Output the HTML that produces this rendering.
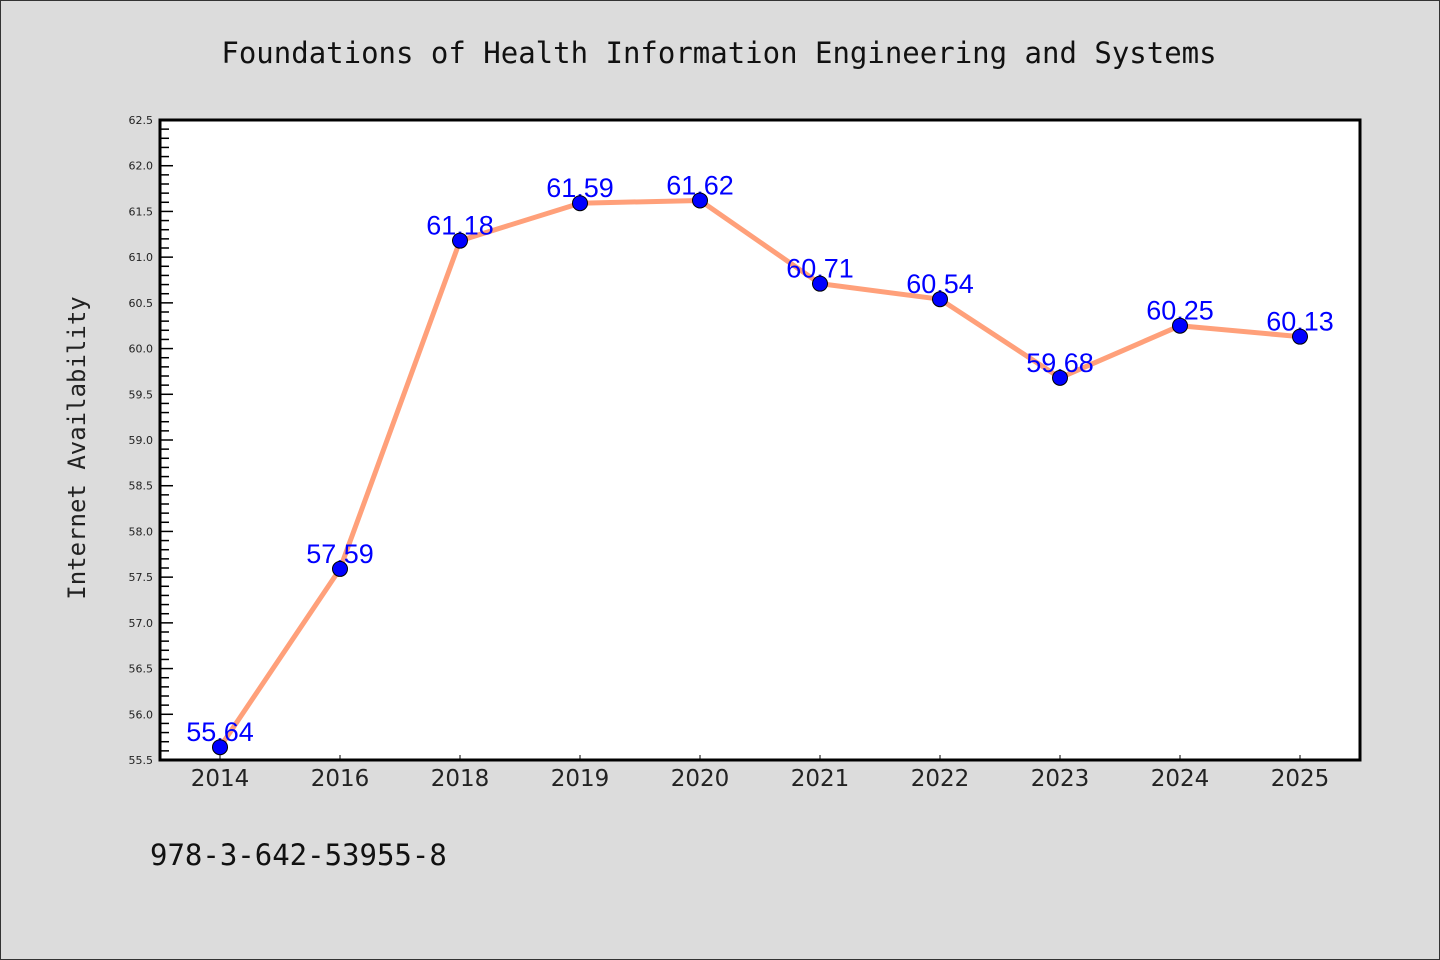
<!DOCTYPE html>
<html><head><meta charset="utf-8"><style>
body{margin:0;background:#dcdcdc;}
svg{display:block;}
</style></head><body>
<svg width="1440" height="960" xmlns="http://www.w3.org/2000/svg">
<rect x="0.5" y="0.5" width="1439" height="959" fill="#dcdcdc" stroke="#333" stroke-width="1"/>
<text x="719" y="63" text-anchor="middle" font-family="DejaVu Sans Mono, Liberation Mono, monospace" font-size="29" fill="#111">Foundations of Health Information Engineering and Systems</text>
<text transform="translate(85,448) rotate(-90)" text-anchor="middle" font-family="DejaVu Sans Mono, Liberation Mono, monospace" font-size="24" fill="#222">Internet Availability</text>
<text x="150" y="865" font-family="DejaVu Sans Mono, Liberation Mono, monospace" font-size="29" fill="#111">978-3-642-53955-8</text>
<rect x="160" y="120" width="1200" height="640" fill="#fff"/>
<g id="ticks"></g>
<g id="series"></g>
<rect x="160" y="120" width="1200" height="640" fill="none" stroke="#000" stroke-width="3"/>
</svg>
<script>
const categories=["2014","2016","2018","2019","2020","2021","2022","2023","2024","2025"];
const values=[55.64,57.59,61.18,61.59,61.62,60.71,60.54,59.68,60.25,60.13];
const labels=["55.64","57.59","61.18","61.59","61.62","60.71","60.54","59.68","60.25","60.13"];
const yTicks=["55.5","56.0","56.5","57.0","57.5","58.0","58.5","59.0","59.5","60.0","60.5","61.0","61.5","62.0","62.5"];
const yMin=55.5,yMax=62.5,L=160,T=120,W=1200,H=640;
const NS="http://www.w3.org/2000/svg";
function y(v){return T+H-(v-yMin)/(yMax-yMin)*H;}
function x(i){return L+60+i*120;}
function mk(t,a,p){const e=document.createElementNS(NS,t);for(const k in a)e.setAttribute(k,a[k]);p.appendChild(e);return e;}
const tg=document.getElementById('ticks');
for(let v=yMin;v<=yMax+1e-6;v+=0.1){
  const major=Math.abs(Math.round(v*2)-v*2)<1e-6;
  const l=mk('line',{x1:L,x2:L+(major?13:9),y1:y(v),y2:y(v),stroke:'#000','stroke-width':1.5},tg);
  
  
}
yTicks.forEach(s=>{
  const t=mk('text',{x:L-7,y:y(parseFloat(s))+4,'text-anchor':'end','font-family':'DejaVu Sans, Liberation Sans, sans-serif','font-size':11,fill:'#222'},tg);
  t.textContent=s;
  
  
});
categories.forEach((c,i)=>{
  const l=mk('line',{x1:x(i),x2:x(i),y1:T+H,y2:T+H-5,stroke:'#000','stroke-width':1},tg);
  
  
  const t=mk('text',{x:x(i),y:T+H+26,'text-anchor':'middle','font-family':'DejaVu Sans, Liberation Sans, sans-serif','font-size':23,fill:'#222'},tg);
  t.textContent=c;
  
  
});
const sg=document.getElementById('series');
const line=mk('polyline',{points:values.map((v,i)=>x(i)+','+y(v)).join(' '),fill:'none',stroke:'#ffa07a','stroke-width':5,'stroke-linejoin':'round'},sg);


values.forEach((v,i)=>{
  const t=mk('text',{x:x(i),y:y(v)-6,'text-anchor':'middle','font-family':'Liberation Sans, sans-serif','font-size':27,fill:'#0000ff'},sg);
  t.textContent=labels[i];
  
  
});
values.forEach((v,i)=>{
  const c=mk('circle',{cx:x(i),cy:y(v),r:7.5,fill:'#0000ff',stroke:'#000','stroke-width':1},sg);
  
  
});
</script>
</body></html>
